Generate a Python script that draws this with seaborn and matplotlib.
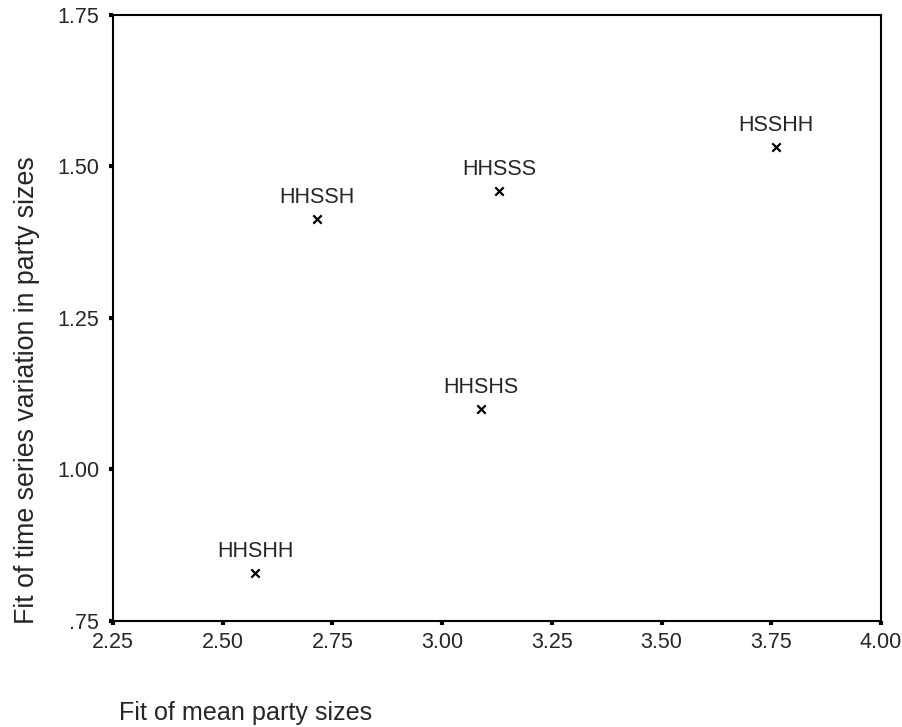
import numpy as np
import pandas as pd
import matplotlib
matplotlib.use('Agg')
import matplotlib.pyplot as plt
import seaborn as sns

# ── Data ──────────────────────────────────────────────────────────────────────
labels   = ['HSSHH', 'HHSSS', 'HHSSH', 'HHSHS', 'HHSHH']
mean_fit = [3.761, 3.130, 2.715, 3.089, 2.574]
var_fit  = [1.532, 1.460, 1.413, 1.100, 0.829]

x_ticks  = [2.25, 2.50, 2.75, 3.00, 3.25, 3.50, 3.75, 4.00]
y_ticks  = [0.75, 1.00, 1.25, 1.50, 1.75]
y_tick_labels = ['.75', '1.00', '1.25', '1.50', '1.75']

df = pd.DataFrame({'label': labels, 'mean_fit': mean_fit, 'var_fit': var_fit})

# ── Plot ──────────────────────────────────────────────────────────────────────
sns.set_style('white')
plt.rcParams['font.family'] = ['Liberation Sans', 'DejaVu Sans']

fig = plt.figure(figsize=(9.03, 7.27), dpi=100)
ax = fig.add_axes([0.1251, 0.1458, 0.8505, 0.8336])

sns.scatterplot(data=df, x='mean_fit', y='var_fit', marker='x', color='black',
                s=36, linewidth=1.6, ax=ax, legend=False)

for _, row in df.iterrows():
    ax.annotate(row['label'], xy=(row['mean_fit'], row['var_fit']),
                xytext=(0, 11.5), textcoords='offset points',
                ha='center', va='baseline', fontsize=15.5)

ax.set_xlim(2.25, 4.00)
ax.set_ylim(0.75, 1.75)
ax.set_xticks(x_ticks)
ax.set_xticklabels([f'{v:.2f}' for v in x_ticks])
ax.set_yticks(y_ticks)
ax.set_yticklabels(y_tick_labels)
ax.tick_params(direction='out', length=3, width=3, color='black',
               labelsize=15.5, bottom=True, left=True)
ax.tick_params(axis='x', pad=5)
ax.tick_params(axis='y', pad=7)

for sp in ax.spines.values():
    sp.set_color('black')
    sp.set_linewidth(1.5)

ax.set_xlabel('')
ax.set_ylabel('')
fig.text(27 / 903, 1 - 390 / 727, 'Fit of time series variation in party sizes',
         fontsize=19.3, rotation=90, ha='center', va='center')
fig.text(119 / 903, 1 - 720 / 727, 'Fit of mean party sizes', fontsize=18.1,
         ha='left', va='baseline')

plt.savefig('out.png', dpi=100)
